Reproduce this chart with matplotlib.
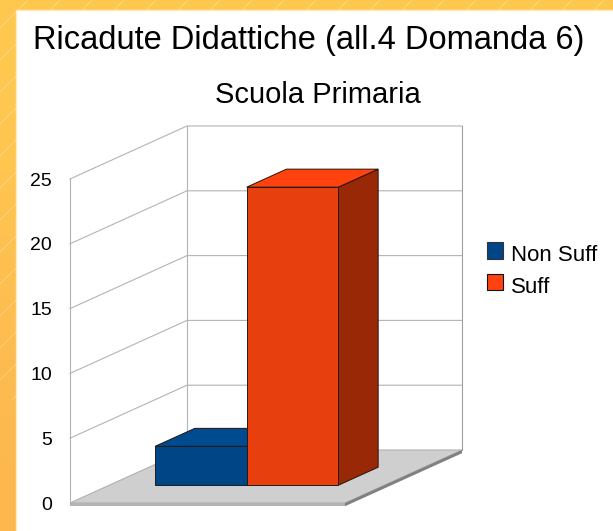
#!/usr/bin/env python3

import matplotlib
matplotlib.use("Agg")
import matplotlib.pyplot as plt
from matplotlib.patches import Polygon, Rectangle

title = "Ricadute Didattiche (all.4 Domanda 6)"
subtitle = "Scuola Primaria"
series_names = ["Non Suff", "Suff"]
series_values = [3, 23]
yticks = [0, 5, 10, 15, 20, 25]

W, H = 613, 531
DX = 117 / 275  # depth shift in category units
DY = 53 / 12.96  # depth shift in value units
BAR_NEAR, BAR_FAR = 0.335, 0.675


def proj(x, v, d):
  return (x + d * DX, v + d * DY)


def box(ax, x0, x1, v, front, top, side, z):
  a = proj(x0, 0, BAR_NEAR)
  b = proj(x1, 0, BAR_NEAR)
  c = proj(x1, v, BAR_NEAR)
  e = proj(x0, v, BAR_NEAR)
  ax.add_patch(Polygon([b, proj(x1, 0, BAR_FAR), proj(x1, v, BAR_FAR), c], fc=side, ec="#2a1208", lw=0.7, zorder=z))
  ax.add_patch(Polygon([e, c, proj(x1, v, BAR_FAR), proj(x0, v, BAR_FAR)], fc=top, ec="#2a1208", lw=0.7, zorder=z))
  ax.add_patch(Polygon([a, b, c, e], fc=front, ec="#1c1c1c", lw=0.7, zorder=z))


def main():
  fig = plt.figure(figsize=(W / 100, H / 100), dpi=100)
  plt.rcParams["font.family"] = "Liberation Sans"

  # page background
  bg = fig.add_axes([0, 0, 1, 1], zorder=0)
  bg.axis("off")
  bg.imshow([[(1.0, 0.79, 0.31)], [(0.99, 0.72, 0.31)]], extent=(0, W, H, 0), aspect="auto", interpolation="bicubic")
  for off in range(-100, W + H, 32):
    bg.plot([off, off - 400], [0, 400], color="#ffe6b0", lw=0.5, alpha=0.6)
  bg.set_xlim(0, W)
  bg.set_ylim(H, 0)
  bg.add_patch(Rectangle((15.5, 9.5), W, H, fc="white", ec="#ffe9c0", lw=1, zorder=3))

  # front plane of the chart
  ax = fig.add_axes([70 / W, 1 - 503 / H, 275 / W, 324 / H], zorder=1)
  ax.set_xlim(0, 1)
  ax.set_ylim(0, 25)
  ax.patch.set_alpha(0)
  for s in ax.spines.values():
    s.set_visible(False)
  ax.set_xticks([])
  ax.set_yticks(yticks)
  ax.tick_params(axis="y", length=0, pad=13, labelsize=14, labelcolor="black")

  floor = [proj(0, 0, 0), proj(1, 0, 0), proj(1, 0, 1), proj(0, 0, 1)]
  ax.add_patch(Polygon(floor, fc="#cfcfcf", ec="#b0b0b0", lw=0.8, clip_on=False, zorder=1))
  # floor slab edges
  t = 0.25
  ax.add_patch(Polygon([proj(0, 0, 0), proj(1, 0, 0), proj(1, -t, 0), proj(0, -t, 0)], fc="#b3b3b3", ec="none", clip_on=False, zorder=1))
  ax.add_patch(Polygon([proj(1, 0, 0), proj(1, 0, 1), proj(1, -t, 1), proj(1, -t, 0)], fc="#808080", ec="none", clip_on=False, zorder=1))

  for v in yticks:
    if v > 0:
      ax.plot(*zip(proj(0, v, 0), proj(0, v, 1), proj(1, v, 1)), color="#b3b3b3", lw=0.8, clip_on=False, zorder=1)
  ax.plot(*zip(proj(0, 0, 0), proj(0, 25, 0)), color="#b3b3b3", lw=0.8, clip_on=False, zorder=1)
  ax.plot(*zip(proj(0, 0, 1), proj(0, 25, 1)), color="#b3b3b3", lw=0.8, clip_on=False, zorder=1)
  ax.plot(*zip(proj(1, 0, 1), proj(1, 25, 1)), color="#a0a0a0", lw=0.8, clip_on=False, zorder=1)

  width = 1 / 3
  box(ax, 1 / 6, 1 / 6 + width, series_values[0], "#004586", "#004a8f", "#00254a", 3)
  box(ax, 1 / 6 + width, 1 / 6 + 2 * width, series_values[1], "#e83f0f", "#ff420e", "#992807", 4)
  for p in ax.patches:
    p.set_clip_on(False)

  # legend
  handles = [Rectangle((0, 0), 1, 1, fc="#004586", ec="#333333", lw=0.8),
             Rectangle((0, 0), 1, 1, fc="#ff420e", ec="#111111", lw=0.8)]
  leg = fig.legend(handles, series_names, loc="upper left", bbox_to_anchor=(487 / W, 1 - 245 / H),
                   frameon=False, fontsize=16, handlelength=0.74, handleheight=0.74, handletextpad=0.34,
                   labelspacing=0.48, borderpad=0, borderaxespad=0)
  for h in leg.legend_handles:
    h.set_y(h.get_y() + 2)

  fig.text(309 / W, 1 - 40 / H, title, fontsize=23.5, ha="center", va="center", color="black")
  fig.text(318 / W, 1 - 95 / H, subtitle, fontsize=21, ha="center", va="center", color="black")

  fig.savefig("out.png", dpi=100)


if __name__ == "__main__":
  main()
